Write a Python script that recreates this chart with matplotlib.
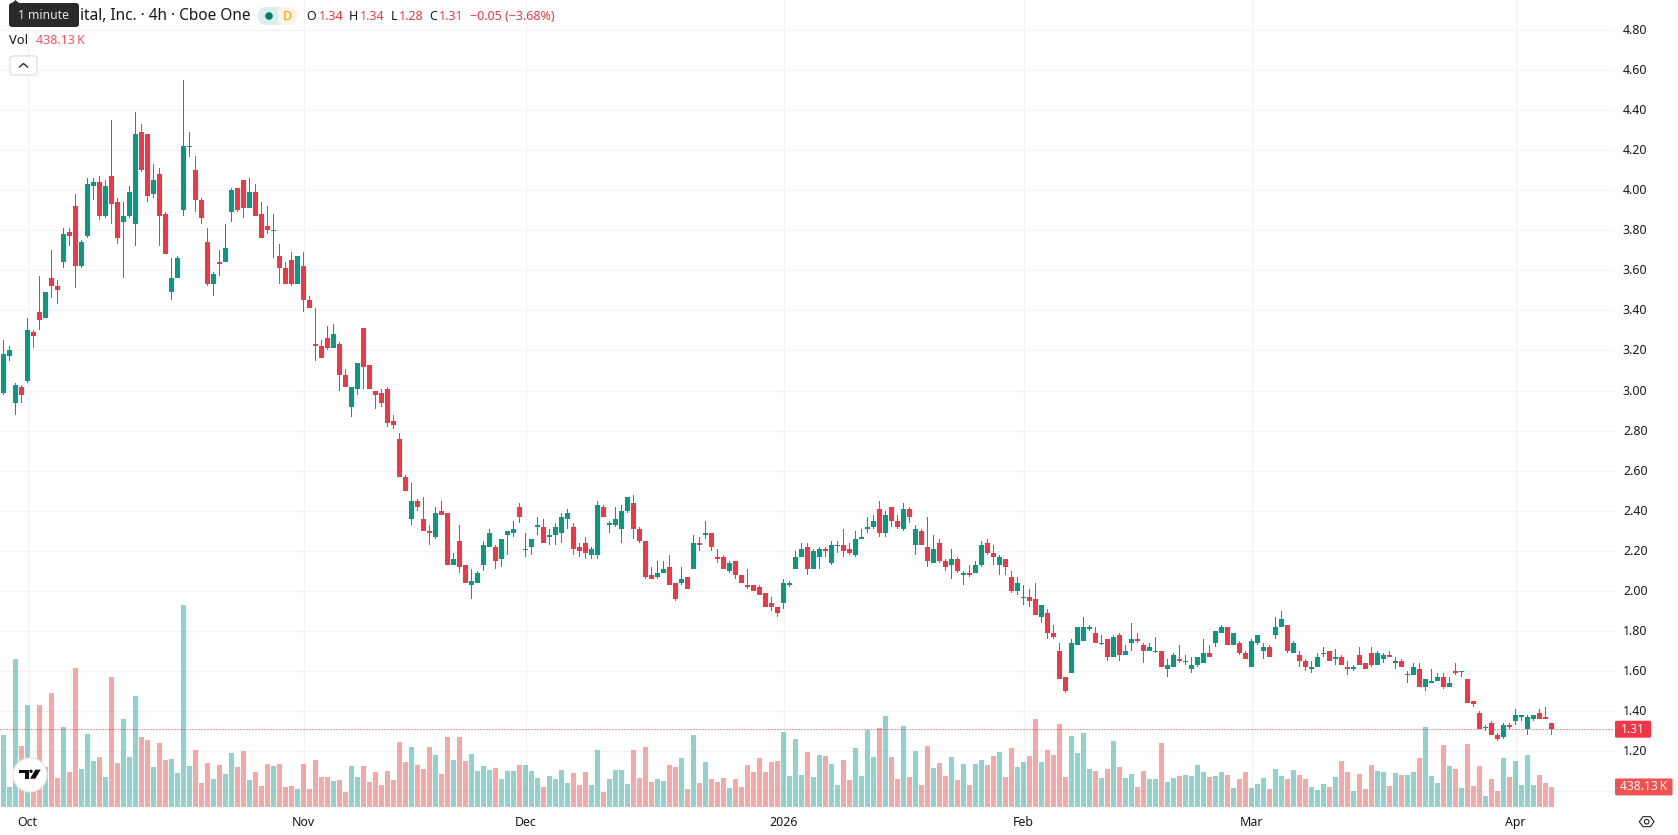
import matplotlib
matplotlib.use("Agg")
import matplotlib.pyplot as plt
from matplotlib.patches import Circle, FancyBboxPatch, Polygon, Rectangle
from matplotlib.transforms import ScaledTranslation, blended_transform_factory

plt.rcParams["font.family"] = ["Noto Sans", "DejaVu Sans"]

# Four-hour candles, oldest first
opens = [
    2.99,3.17,2.94,3.02,3.05,3.29,3.39,3.36,3.56,3.52,
    3.64,3.79,3.92,3.62,3.77,4.02,4.04,3.87,4.07,3.94,
    3.84,3.87,3.83,4.29,4.28,3.98,4.08,3.88,3.49,3.56,
    3.90,4.215,4.10,3.95,3.74,3.53,3.64,3.64,3.89,4.01,
    4.05,3.91,3.99,3.88,3.82,3.795,3.67,3.61,3.65,3.53,
    3.62,3.45,3.23,3.22,3.26,3.21,3.23,3.08,2.92,3.01,
    3.31,3.13,3.00,2.99,3.01,2.85,2.76,2.57,2.36,2.45,
    2.36,2.30,2.27,2.40,2.39,2.13,2.25,2.13,2.03,2.04,
    2.13,2.22,2.22,2.16,2.28,2.29,2.42,2.205,2.22,2.32,
    2.32,2.27,2.28,2.29,2.36,2.32,2.22,2.24,2.18,2.18,
    2.42,2.33,2.33,2.31,2.40,2.44,2.31,2.25,2.08,2.07,
    2.09,2.12,2.04,2.04,2.07,2.11,2.24,2.28,2.29,2.17,
    2.17,2.10,2.15,2.08,2.03,2.03,2.02,1.99,1.94,1.92,
    1.94,2.03,2.11,2.17,2.22,2.11,2.17,2.21,2.14,2.225,
    2.23,2.21,2.18,2.26,2.31,2.32,2.41,2.29,2.42,2.35,
    2.31,2.41,2.23,2.30,2.22,2.14,2.24,2.15,2.13,2.16,
    2.08,2.09,2.09,2.13,2.24,2.19,2.13,2.16,2.07,2.00,
    1.965,1.97,1.96,1.87,1.89,1.79,1.70,1.57,1.59,1.73,
    1.75,1.81,1.79,1.735,1.76,1.67,1.78,1.68,1.74,1.76,
    1.73,1.70,1.695,1.70,1.61,1.62,1.66,1.645,1.61,1.63,
    1.64,1.69,1.74,1.79,1.82,1.73,1.74,1.69,1.62,1.74,
    1.70,1.72,1.78,1.82,1.83,1.69,1.68,1.65,1.61,1.62,
    1.685,1.70,1.66,1.67,1.62,1.61,1.68,1.64,1.69,1.63,
    1.66,1.68,1.64,1.65,1.58,1.58,1.61,1.52,1.54,1.55,
    1.57,1.52,1.60,1.595,1.56,1.45,1.39,1.315,1.34,1.28,
    1.27,1.33,1.35,1.37,1.31,1.36,1.39,1.37,1.34,
]
highs = [
    3.25,3.22,3.04,3.03,3.36,3.30,3.57,3.49,3.70,3.55,
    3.81,3.81,3.98,3.75,4.06,4.06,4.07,4.05,4.35,3.96,
    3.94,4.02,4.39,4.33,4.28,4.13,4.11,3.89,3.66,3.67,
    4.55,4.29,4.17,3.96,3.81,3.59,3.70,3.83,4.01,4.01,
    4.05,4.06,4.03,3.94,3.92,3.88,3.73,3.64,3.69,3.67,
    3.69,3.47,3.41,3.25,3.32,3.33,3.24,3.11,3.02,3.14,
    3.31,3.13,3.00,3.01,3.02,2.88,2.79,2.58,2.54,2.46,
    2.47,2.33,2.42,2.45,2.39,2.19,2.33,2.13,2.11,2.10,
    2.25,2.31,2.23,2.26,2.30,2.35,2.44,2.29,2.26,2.37,
    2.36,2.31,2.34,2.39,2.41,2.34,2.24,2.27,2.22,2.45,
    2.43,2.35,2.42,2.43,2.47,2.48,2.32,2.25,2.12,2.15,
    2.15,2.18,2.04,2.12,2.07,2.28,2.27,2.35,2.29,2.21,
    2.18,2.15,2.15,2.08,2.11,2.03,2.03,1.99,1.97,1.92,
    2.06,2.05,2.20,2.24,2.24,2.21,2.22,2.22,2.25,2.25,
    2.31,2.24,2.30,2.31,2.37,2.38,2.45,2.40,2.42,2.38,
    2.44,2.42,2.33,2.31,2.37,2.28,2.26,2.16,2.21,2.17,
    2.10,2.13,2.15,2.25,2.26,2.23,2.18,2.16,2.10,2.07,
    2.03,2.01,2.04,1.93,1.91,1.83,1.74,1.57,1.76,1.82,
    1.87,1.83,1.82,1.78,1.76,1.78,1.79,1.73,1.84,1.79,
    1.74,1.74,1.77,1.70,1.66,1.69,1.73,1.68,1.67,1.67,
    1.76,1.73,1.80,1.83,1.82,1.79,1.75,1.70,1.76,1.78,
    1.74,1.73,1.87,1.90,1.83,1.75,1.70,1.66,1.65,1.69,
    1.72,1.70,1.71,1.68,1.65,1.63,1.72,1.64,1.72,1.70,
    1.69,1.70,1.67,1.66,1.60,1.64,1.64,1.56,1.61,1.59,
    1.59,1.57,1.64,1.60,1.56,1.45,1.40,1.33,1.35,1.29,
    1.34,1.34,1.41,1.38,1.38,1.38,1.41,1.42,1.34,
]
lows = [
    2.98,3.15,2.88,2.94,3.04,3.21,3.30,3.36,3.46,3.43,
    3.61,3.72,3.51,3.61,3.76,3.95,3.85,3.86,3.83,3.73,
    3.56,3.86,3.72,4.09,3.94,3.96,3.72,3.68,3.45,3.56,
    3.87,4.165,3.89,3.83,3.52,3.47,3.57,3.64,3.84,3.89,
    3.86,3.91,3.87,3.76,3.78,3.66,3.53,3.53,3.52,3.53,
    3.39,3.41,3.15,3.16,3.20,3.21,3.00,3.02,2.87,2.98,
    3.01,3.01,2.91,2.92,2.82,2.81,2.57,2.50,2.33,2.40,
    2.30,2.23,2.26,2.38,2.13,2.13,2.09,2.04,1.96,2.04,
    2.10,2.22,2.11,2.12,2.18,2.27,2.34,2.17,2.18,2.28,
    2.24,2.23,2.23,2.24,2.31,2.18,2.17,2.16,2.16,2.16,
    2.37,2.29,2.32,2.24,2.39,2.26,2.24,2.06,2.06,2.06,
    2.09,2.03,1.95,2.03,2.01,2.11,2.20,2.26,2.20,2.14,
    2.11,2.09,2.06,2.04,2.01,2.00,1.98,1.92,1.90,1.87,
    1.91,2.02,2.11,2.17,2.08,2.11,2.11,2.17,2.13,2.19,
    2.17,2.18,2.17,2.26,2.29,2.31,2.27,2.27,2.32,2.31,
    2.30,2.34,2.18,2.23,2.12,2.14,2.14,2.10,2.06,2.09,
    2.03,2.07,2.09,2.12,2.18,2.13,2.08,2.08,1.99,1.98,
    1.93,1.92,1.88,1.84,1.76,1.76,1.56,1.49,1.59,1.73,
    1.75,1.80,1.74,1.73,1.65,1.67,1.65,1.68,1.70,1.74,
    1.64,1.70,1.69,1.62,1.57,1.62,1.64,1.63,1.59,1.62,
    1.64,1.67,1.72,1.79,1.73,1.73,1.68,1.66,1.62,1.73,
    1.66,1.67,1.76,1.82,1.69,1.69,1.62,1.60,1.59,1.62,
    1.67,1.65,1.63,1.63,1.58,1.60,1.63,1.61,1.62,1.63,
    1.64,1.67,1.61,1.62,1.54,1.58,1.52,1.50,1.54,1.55,
    1.51,1.52,1.58,1.57,1.44,1.42,1.31,1.30,1.28,1.25,
    1.26,1.31,1.33,1.35,1.28,1.35,1.36,1.36,1.28,
]
closes = [
    3.18,3.20,3.03,2.98,3.30,3.27,3.35,3.49,3.52,3.50,
    3.78,3.77,3.62,3.74,4.03,4.04,3.87,4.02,3.93,3.76,
    3.87,3.99,4.28,4.10,3.97,4.05,3.87,3.68,3.56,3.66,
    4.22,4.22,3.95,3.86,3.53,3.58,3.63,3.71,4.00,3.90,
    3.91,3.99,3.87,3.76,3.80,3.80,3.61,3.53,3.53,3.67,
    3.45,3.41,3.22,3.16,3.21,3.28,3.08,3.02,3.02,3.14,
    3.12,3.01,2.98,2.94,2.84,2.83,2.57,2.50,2.45,2.42,
    2.30,2.29,2.39,2.38,2.13,2.16,2.12,2.04,2.05,2.09,
    2.23,2.29,2.15,2.26,2.30,2.31,2.37,2.21,2.26,2.33,
    2.24,2.28,2.32,2.37,2.39,2.21,2.20,2.19,2.21,2.43,
    2.37,2.34,2.36,2.40,2.47,2.31,2.25,2.07,2.06,2.09,
    2.11,2.03,1.96,2.06,2.01,2.24,2.23,2.29,2.22,2.16,
    2.11,2.14,2.08,2.04,2.02,2.00,1.98,1.92,1.92,1.89,
    2.04,2.04,2.17,2.21,2.11,2.20,2.21,2.20,2.23,2.23,
    2.20,2.19,2.26,2.27,2.32,2.35,2.29,2.38,2.35,2.32,
    2.41,2.37,2.31,2.23,2.15,2.21,2.15,2.12,2.16,2.10,
    2.09,2.08,2.13,2.23,2.19,2.17,2.17,2.12,2.00,2.04,
    1.97,1.95,1.88,1.93,1.79,1.77,1.56,1.50,1.74,1.82,
    1.82,1.82,1.74,1.74,1.67,1.77,1.68,1.70,1.76,1.75,
    1.70,1.72,1.70,1.62,1.63,1.68,1.65,1.65,1.63,1.67,
    1.69,1.67,1.80,1.82,1.73,1.79,1.69,1.66,1.75,1.78,
    1.72,1.67,1.82,1.86,1.70,1.74,1.65,1.62,1.62,1.67,
    1.69,1.65,1.67,1.63,1.61,1.62,1.63,1.61,1.63,1.69,
    1.68,1.67,1.65,1.62,1.585,1.62,1.52,1.56,1.55,1.57,
    1.52,1.54,1.59,1.60,1.44,1.435,1.31,1.32,1.28,1.26,
    1.33,1.32,1.38,1.38,1.37,1.38,1.36,1.36,1.31,
]

# Traded volume per candle, in thousands
volumes_k = [
    1591,437,3278,1347,2257,666,2257,881,2523,636,
    1769,770,3078,836,1613,1014,1103,659,2879,969,
    1946,1103,2457,1547,1480,881,1413,1036,1058,747,
    4477,903,1258,525,969,614,925,725,1191,881,
    1236,592,770,459,947,903,947,437,459,392,
    947,392,1036,659,659,570,592,326,903,659,
    903,548,770,481,792,592,1436,992,1325,925,
    836,1325,1147,725,1547,1036,1547,1014,1169,792,
    903,814,858,614,792,792,925,925,792,636,
    437,681,614,814,525,747,481,770,481,1258,
    326,614,814,814,503,1258,636,1325,548,614,
    570,925,881,1080,392,1591,525,992,614,548,
    636,414,614,437,925,770,1080,770,992,1014,
    1658,681,1502,703,1214,659,1147,1125,947,481,
    1036,592,1302,681,1702,1103,1746,2013,1103,614,
    1791,659,1236,481,1347,858,969,681,1103,592,
    947,481,947,1036,925,1125,1214,659,1302,881,
    992,1125,1946,992,1258,1147,1835,659,1569,1191,
    1635,836,792,636,836,1458,881,636,725,437,
    792,614,614,1413,548,636,681,703,681,925,
    770,659,681,770,703,414,614,770,414,503,
    636,392,836,681,614,814,703,614,437,370,
    503,437,659,1014,770,348,725,392,925,792,
    770,459,747,703,703,770,1080,1769,681,525,
    1369,903,836,414,1391,459,903,237,614,348,
    1080,659,1014,481,1147,481,703,525,438.13,
]

# Month boundaries on the time axis, as candle positions
month_positions = [4, 50, 87, 130, 170, 208, 252]
month_labels = ["Oct", "Nov", "Dec", "2026", "Feb", "Mar", "Apr"]

price_ticks = [1.00, 1.20, 1.40, 1.60, 1.80, 2.00, 2.20, 2.40, 2.60,
               2.80, 3.00, 3.20, 3.40, 3.60, 3.80, 4.00, 4.20, 4.40, 4.60, 4.80]
price_tick_labels = [""] + [f"{p:.2f}" for p in price_ticks[1:]]

UP, DOWN = "#089981", "#F23645"
VOL_UP, VOL_DOWN = "#26A69A", "#EF5350"
GRID = "#F2F3F4"
INK = "#131722"

W, H = 1678, 835
fig = plt.figure(figsize=(W / 100, H / 100), dpi=100, facecolor="white")
PANE_W, PANE_H = 1614, 809
rect = [0, 1 - PANE_H / H, PANE_W / W, PANE_H / H]

# Price pane: grid, candles and scale labels
ax = fig.add_axes(rect, facecolor="white", zorder=1)
xs = list(range(len(closes)))
x_limits = (-3.5 / 6, (PANE_W - 3.5) / 6)
ax.set_xlim(*x_limits)
ax.set_ylim(4.4 - (PANE_H - 110) / 200.4, 4.4 + 110 / 200.4)
for side in ax.spines.values():
    side.set_visible(False)
ax.set_axisbelow(True)
ax.grid(True, color=GRID, linewidth=1.0)
ax.yaxis.tick_right()
ax.set_yticks(price_ticks, price_tick_labels)
ax.set_xticks(month_positions, month_labels)
ax.tick_params(axis="both", length=0, labelsize=8.9, labelcolor=INK)
ax.tick_params(axis="y", pad=6.4)
ax.tick_params(axis="x", pad=5.2)
nudge_up = ScaledTranslation(0, 1 / 100, fig.dpi_scale_trans)
for tick in ax.get_yticklabels():
    tick.set_transform(tick.get_transform() + nudge_up)
for tick in ax.get_xticklabels():
    if tick.get_text() == "2026":
        tick.set_fontweight("bold")

colors = [UP if c >= o else DOWN for o, c in zip(opens, closes)]
ax.bar(xs, [h - l for h, l in zip(highs, lows)], bottom=lows,
       width=1 / 6, color=colors, linewidth=0, zorder=3)
ax.bar(xs, [abs(c - o) for o, c in zip(opens, closes)],
       bottom=[min(o, c) for o, c in zip(opens, closes)],
       width=5 / 6, color=colors, linewidth=0, zorder=4)

# Volume pane shares the time axis and sits along the bottom
vol = fig.add_axes(rect, facecolor="none", zorder=2)
vol.set_xlim(*x_limits)
vol.set_ylim(-2.3 * 22.2, 806.7 * 22.2)
vol.axis("off")
vol_colors = [VOL_UP if c >= o else VOL_DOWN for o, c in zip(opens, closes)]
vol.bar(xs, volumes_k, width=5 / 6, color=vol_colors, alpha=0.5, linewidth=0)

# Dotted last-price line
last_close = closes[-1]
vol.plot([0, 1], [last_close, last_close],
         transform=blended_transform_factory(vol.transAxes, ax.transData),
         color=DOWN, linewidth=0.72, linestyle=(0, (1, 2)))

# Legend, scale badges and icons, laid out in screen pixels
ui = fig.add_axes([0, 0, 1, 1], facecolor="none", zorder=3)
ui.set_xlim(0, W)
ui.set_ylim(H, 0)
ui.axis("off")


def px(size):
    return size * 0.72


def label(x, y, s, size=12.5, color=INK, ha="left", **kw):
    return ui.text(x, y, s, fontsize=px(size), color=color, ha=ha, va="center", **kw)


label(80, 16, "ital, Inc. · 4h · Cboe One", size=15.4)

# Tooltip covering the start of the symbol name
ui.add_patch(FancyBboxPatch((11, 5), 66, 20, boxstyle="round,pad=2,rounding_size=3",
                            facecolor="#2A2A2A", edgecolor="none"))
ui.add_patch(Polygon([(11, 4), (15.5, 0), (20, 4)], facecolor="#2A2A2A", edgecolor="none"))
label(44, 15.6, "1 minute", size=12.2, color="#E4E4E4", ha="center")

# Market-status pill
ui.add_patch(FancyBboxPatch((258, 7), 39, 18, boxstyle="round,pad=0,rounding_size=8",
                            facecolor="#FFF3E5", edgecolor="none"))
ui.add_patch(FancyBboxPatch((258, 7), 20, 18, boxstyle="round,pad=0,rounding_size=8",
                            facecolor="#D9F0EC", edgecolor="none"))
ui.add_patch(Rectangle((268, 7), 10, 18, facecolor="#D9F0EC", edgecolor="none"))
ui.add_patch(Circle((269, 16), 3.8, facecolor="#0B7A68", edgecolor="none"))
label(287, 16, "D", size=12.5, color="#FF9800", ha="center", fontweight="bold")

# OHLC readout of the latest candle
change = closes[-1] - closes[-2]
readout = [
    (306.5, 318.7, "O", opens[-1]), (349, 359.7, "H", highs[-1]),
    (390.7, 399, "L", lows[-1]), (429.3, 439, "C", closes[-1]),
]
for x_letter, x_value, letter, value in readout:
    label(x_letter, 16, letter, size=12.4)
    label(x_value, 16, f"{value:.2f}", size=12.4, color=DOWN)
label(470, 16, f"\u2212{abs(change):.2f} (\u22123.68%)", size=12.4, color=DOWN)

label(9, 40.5, "Vol", size=13)
label(36.5, 40.5, f"{volumes_k[-1]:.2f}\u2009K", size=12.5, color="#F7525F")

# Collapse button
ui.add_patch(FancyBboxPatch((10, 56), 27, 19, boxstyle="round,pad=0,rounding_size=2.5",
                            facecolor="white", edgecolor="#D8D8D8", linewidth=0.75))
ui.plot([19.5, 23.5, 27.5], [67, 63.5, 67], color=INK, linewidth=0.9)

# Badge for the last close
y_price = H - ax.transData.transform((0, last_close))[1]
ui.add_patch(FancyBboxPatch((1615, y_price - 8.5), 36, 17,
                            boxstyle="round,pad=0,rounding_size=1.5",
                            facecolor=DOWN, edgecolor="none"))
label(1633, y_price, f"{last_close:.2f}", size=12, color="white", ha="center")

# Badge for the latest volume
y_vol = H - vol.transData.transform((0, volumes_k[-1]))[1]
ui.add_patch(FancyBboxPatch((1615, y_vol - 8.5), 57.5, 17,
                            boxstyle="round,pad=0,rounding_size=1.5",
                            facecolor=VOL_DOWN, edgecolor="none"))
label(1644, y_vol, f"{volumes_k[-1]:.2f}\u2009K", size=12, color="white", ha="center")

# Scale settings icon
ui.add_patch(Polygon([(1639.3, 821.7), (1643, 816.7), (1650.4, 816.7),
                      (1654.1, 821.7), (1650.4, 826.7), (1643, 826.7)],
                     closed=True, facecolor="none", edgecolor=INK, linewidth=0.75))
ui.add_patch(Circle((1646.7, 821.7), 2.3, facecolor="none", edgecolor=INK, linewidth=0.75))

# Attribution badge in the lower-left corner
ui.add_patch(Circle((30, 775), 17, facecolor="white", edgecolor="#E6E6E6", linewidth=0.9))
ui.add_patch(Polygon([(19, 769.7), (28.7, 769.7), (28.7, 778.7), (24.7, 778.7),
                      (24.7, 773.3), (19, 773.3)], facecolor="#0F0F0F", edgecolor="none"))
ui.add_patch(Circle((31, 771.3), 1.7, facecolor="#0F0F0F", edgecolor="none"))
ui.add_patch(Polygon([(35.3, 769.7), (40.7, 769.7), (35.3, 778.7), (30, 778.7)],
                     facecolor="#0F0F0F", edgecolor="none"))

fig.savefig("out.png", dpi=100, facecolor="white")
